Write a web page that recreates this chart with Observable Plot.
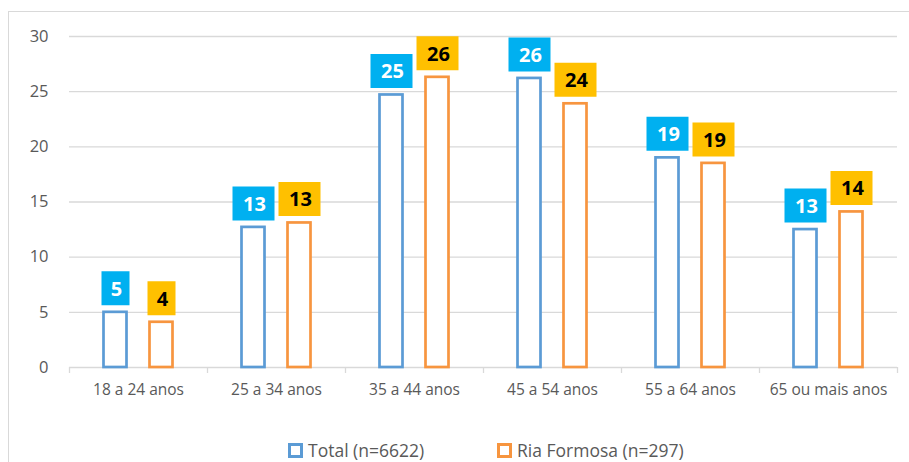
<!DOCTYPE html>
<html>
<head>
<meta charset="utf-8">
<script src="https://cdn.jsdelivr.net/npm/d3@7"></script>
<script src="https://cdn.jsdelivr.net/npm/@observablehq/plot@0.6"></script>
<style>
  html, body { margin: 0; padding: 0; background: #fff; }
  body { width: 909px; height: 462px; position: relative; overflow: hidden; font-family: "Open Sans", sans-serif; }
  #frame { position: absolute; left: 8px; top: 11px; width: 1000px; height: 1000px; border: 1.5px solid #d9d9d9; box-sizing: border-box; }
  #chart { position: absolute; left: 0; top: 0; }
  #legend { position: absolute; left: 0; top: 427px; width: 909px; height: 46px; line-height: 46px; font-size: 17.5px; color: #595959; }
  .item { position: absolute; top: 0; display: flex; align-items: center; height: 46px; }
  .sw { width: 9px; height: 9px; border: 3px solid; margin-right: 5px; background: #fff; }
</style>
</head>
<body>
<div id="frame"></div>
<div id="chart"></div>
<div id="legend">
  <div class="item" style="left:288px"><span class="sw" style="border-color:#5B9BD5"></span><span>Total (n=6622)</span></div>
  <div class="item" style="left:497px"><span class="sw" style="border-color:#F7953F"></span><span>Ria Formosa (n=297)</span></div>
</div>
<script>
const categories = ["18 a 24 anos", "25 a 34 anos", "35 a 44 anos", "45 a 54 anos", "55 a 64 anos", "65 ou mais anos"];
const totalValues = [5.0, 12.7, 24.7, 26.2, 19.0, 12.5];
const riaValues = [4.1, 13.1, 26.3, 23.9, 18.5, 14.1];
const totalLabels = ["5", "13", "25", "26", "19", "13"];
const riaLabels = ["4", "13", "26", "24", "19", "14"];
const yTicks = [0, 5, 10, 15, 20, 25, 30];

const totalRows = categories.map((c, i) => ({cat: c, value: totalValues[i], label: totalLabels[i]}));
const riaRows = categories.map((c, i) => ({cat: c, value: riaValues[i], label: riaLabels[i]}));

const boxSymbol = (w, h) => ({draw(ctx) { ctx.rect(-w / 2, -h / 2, w, h); }});
const narrowBox = boxSymbol(28, 34);
const wideBox = boxSymbol(42, 34);

const BLUE = "#5B9BD5", ORANGE = "#F7953F", BLUEBOX = "#00B0F0", ORANGEBOX = "#FFC000";
const OFF = 23;

function seriesMarks(rows, dx, stroke, boxFill, textFill) {
  const narrow = rows.filter(d => d.label.length === 1);
  const wide = rows.filter(d => d.label.length > 1);
  return [
    Plot.barY(rows, {x: "cat", y: "value", dx, insetLeft: 57.5, insetRight: 57.5, fill: "white", stroke, strokeWidth: 2.7}),
    Plot.dot(narrow, {x: "cat", y: "value", dx, dy: -24, symbol: narrowBox, fill: boxFill, stroke: null}),
    Plot.dot(wide, {x: "cat", y: "value", dx, dy: -24, symbol: wideBox, fill: boxFill, stroke: null}),
    Plot.text(rows, {x: "cat", y: "value", text: "label", dx: dx + 1, dy: -23, fill: textFill, fontSize: 20, fontWeight: "bold", fontFamily: "Open Sans"})
  ];
}

const chart = Plot.plot({
  width: 909,
  height: 430,
  marginLeft: 69,
  marginRight: 12,
  marginTop: 36,
  marginBottom: 63,
  style: {fontFamily: "Open Sans", color: "#595959", background: "transparent"},
  x: {domain: categories, padding: 0, label: null},
  y: {domain: [0, 30], label: null},
  marks: [
    Plot.gridY(yTicks.filter(t => t > 0), {stroke: "#d9d9d9", strokeOpacity: 1, strokeWidth: 1.3}),
    Plot.axisY(yTicks, {tickSize: 0, tickPadding: 21, fontSize: 16.5, fill: "#595959", label: null}),
    Plot.axisX({tickSize: 0, tickPadding: 16, fontSize: 15.5, fill: "#595959", label: null}),
    Plot.ruleY([0], {stroke: "#d9d9d9", strokeWidth: 1.5}),
    Plot.ruleX(categories, {x: d => d, y1: 0, y2: 0, insetBottom: -6, dx: -69, stroke: "#d9d9d9", strokeWidth: 1.3}),
    Plot.ruleX(categories.slice(-1), {x: d => d, y1: 0, y2: 0, insetBottom: -6, dx: 69, stroke: "#d9d9d9", strokeWidth: 1.3}),
    ...seriesMarks(totalRows, -OFF, BLUE, BLUEBOX, "white"),
    ...seriesMarks(riaRows, OFF, ORANGE, ORANGEBOX, "black")
  ]
});
document.getElementById("chart").appendChild(chart);
</script>
</body>
</html>
